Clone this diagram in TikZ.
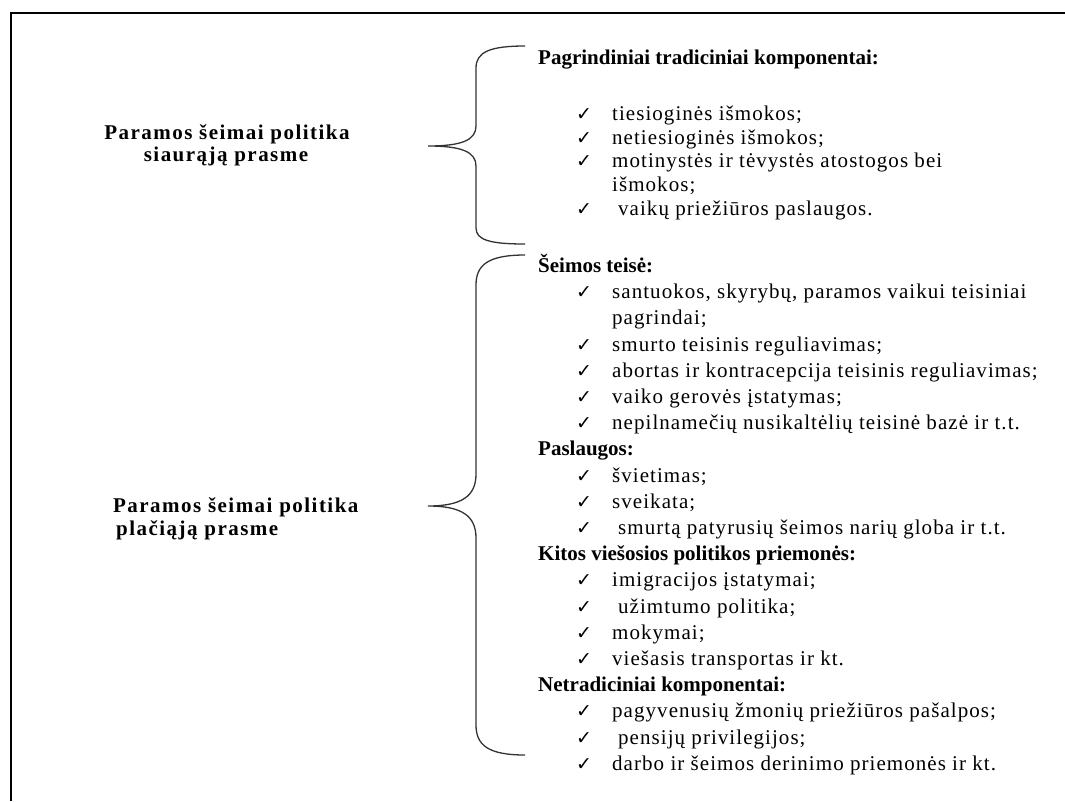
\documentclass[tikz,border=0pt]{standalone}
\usepackage{fontspec}
\setmainfont{Liberation Serif}
\newfontfamily\tickfont{DejaVu Sans}
\usetikzlibrary{positioning}

\tikzset{
  frame/.style={line width=2pt},
  brace/.style={line width=1.3pt, black!80},
  label/.style={anchor=base, inner sep=0pt, font=\fontsize{21}{25}\selectfont\bfseries\addfontfeature{LetterSpace=7}},
  head/.style={anchor=base west, inner sep=0pt, font=\fontsize{21}{25}\selectfont\bfseries},
  item/.style={anchor=base west, inner sep=0pt, font=\fontsize{21}{25}\selectfont\addfontfeature{LetterSpace=5}},
  tick/.style={anchor=base west, inner sep=0pt, font=\tickfont\fontsize{19}{21}\selectfont}
}

\begin{document}
\begin{tikzpicture}[x=1pt, y=-1pt]
    \useasboundingbox (0,0) rectangle (1065,801);
    \draw[frame] (10.5,801) -- (10.5,13) -- (1065,13);

    % braces
    \draw[brace] (525,46) .. controls (490,46) and (476,52) .. (476,68) -- (476,126)
        .. controls (476,140) and (462,146) .. (428,146)
        .. controls (462,146) and (476,152) .. (476,166) -- (476,228)
        .. controls (476,240) and (490,244) .. (525,244);
    \draw[brace] (525,255) .. controls (488,255) and (476,265) .. (476,285) -- (476,474)
        .. controls (476,496) and (462,506) .. (428,506)
        .. controls (462,506) and (476,516) .. (476,538) -- (476,725)
        .. controls (476,745) and (488,755) .. (525,755);

    % left labels
    \node[label] (narrow1) at (227,139) {Paramos šeimai politika};
    \node[label] (narrow2) at (226,161) {siaurąją prasme};
    \node[label, anchor=base west] (wide1) at (113,512) {Paramos šeimai politika};
    \node[label, anchor=base west] (wide2) at (116,535) {plačiąją prasme};

    % narrow sense
    \node[head] (h1) at (538,64) {Pagrindiniai tradiciniai komponentai:};
    \node[tick] at (576,120) {✓}; \node[item] (a1) at (612,120) {tiesioginės išmokos;};
    \node[tick] at (576,144) {✓}; \node[item] (a2) at (612,144) {netiesioginės išmokos;};
    \node[tick] at (576,167) {✓}; \node[item] (a3) at (612,167) {motinystės ir tėvystės atostogos bei};
    \node[item] (a3b) at (612,191) {išmokos;};
    \node[tick] at (576,215) {✓}; \node[item] (a4) at (618,215) {vaikų priežiūros paslaugos.};

    % wide sense
    \node[head] (h2) at (538,272) {Šeimos teisė:};
    \node[tick] at (576,298) {✓}; \node[item] (b1) at (612,298) {santuokos, skyrybų, paramos vaikui teisiniai};
    \node[item] (b1b) at (612,324) {pagrindai;};
    \node[tick] at (576,351) {✓}; \node[item] (b2) at (612,351) {smurto teisinis reguliavimas;};
    \node[tick] at (576,377) {✓}; \node[item] (b3) at (612,377) {abortas ir kontracepcija teisinis reguliavimas;};
    \node[tick] at (576,403) {✓}; \node[item] (b4) at (612,403) {vaiko gerovės įstatymas;};
    \node[tick] at (576,429) {✓}; \node[item] (b5) at (612,429) {nepilnamečių nusikaltėlių teisinė bazė ir t.t.};

    \node[head] (h3) at (538,455) {Paslaugos:};
    \node[tick] at (576,482) {✓}; \node[item] (c1) at (612,482) {švietimas;};
    \node[tick] at (576,508) {✓}; \node[item] (c2) at (612,508) {sveikata;};
    \node[tick] at (576,534) {✓}; \node[item] (c3) at (618,534) {smurtą patyrusių šeimos narių globa ir t.t.};

    \node[head] (h4) at (538,560) {Kitos viešosios politikos priemonės:};
    \node[tick] at (576,586) {✓}; \node[item] (d1) at (612,586) {imigracijos įstatymai;};
    \node[tick] at (576,613) {✓}; \node[item] (d2) at (618,613) {užimtumo politika;};
    \node[tick] at (576,639) {✓}; \node[item] (d3) at (612,639) {mokymai;};
    \node[tick] at (576,665) {✓}; \node[item] (d4) at (612,665) {viešasis transportas ir kt.};

    \node[head] (h5) at (538,691) {Netradiciniai komponentai:};
    \node[tick] at (576,717) {✓}; \node[item] (e1) at (612,717) {pagyvenusių žmonių priežiūros pašalpos;};
    \node[tick] at (576,744) {✓}; \node[item] (e2) at (618,744) {pensijų privilegijos;};
    \node[tick] at (576,770) {✓}; \node[item] (e3) at (612,770) {darbo ir šeimos derinimo priemonės ir kt.};
\end{tikzpicture}
\end{document}
